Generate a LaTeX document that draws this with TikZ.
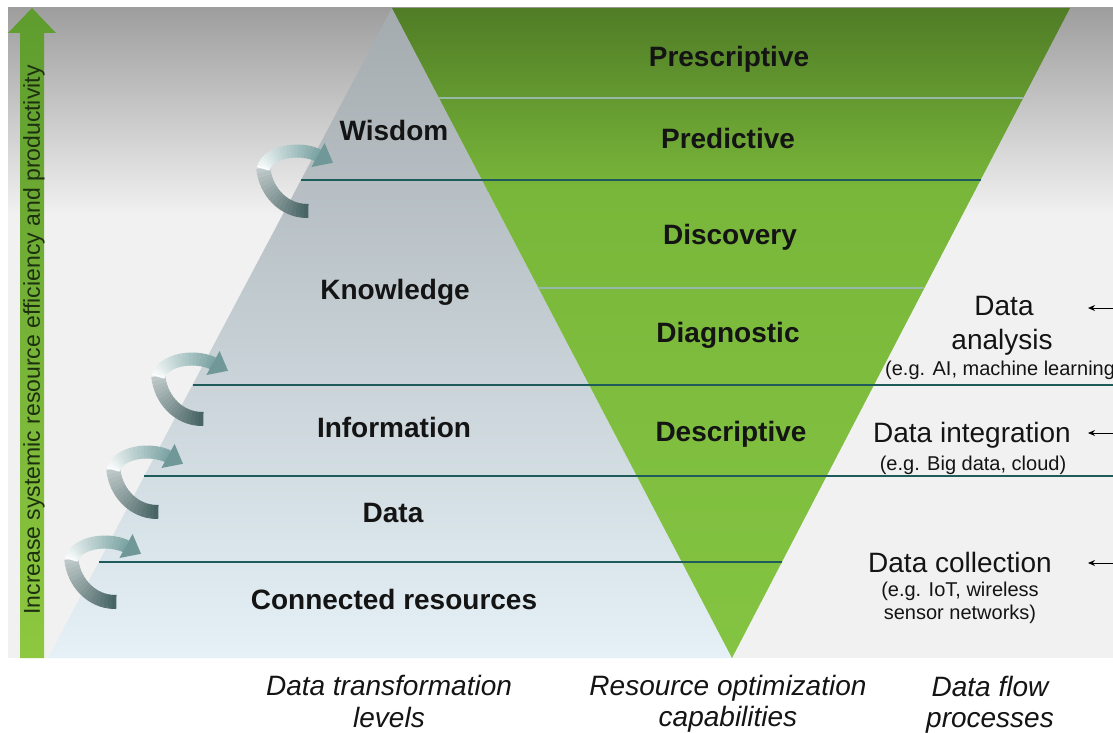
\documentclass[tikz,border=0pt]{standalone}
\usepackage{fontspec}
\setmainfont{Liberation Sans}
\usetikzlibrary{arrows.meta}

\definecolor{panelTop}{RGB}{158,158,158}
\definecolor{panelLt}{RGB}{241,241,241}
\definecolor{pyrTop}{RGB}{164,171,175}
\definecolor{pyrMid}{RGB}{204,214,219}
\definecolor{pyrBot}{RGB}{229,241,247}
\definecolor{grnTop}{RGB}{80,124,38}
\definecolor{grnMid}{RGB}{121,183,58}
\definecolor{grnBot}{RGB}{132,196,66}
\definecolor{lvlDark}{RGB}{30,92,92}
\definecolor{lvlLight}{RGB}{150,185,170}
\definecolor{arrTop}{RGB}{94,157,46}
\definecolor{arrBot}{RGB}{142,200,64}
\definecolor{arrText}{RGB}{28,48,16}
\definecolor{spLoA}{RGB}{190,200,200}
\definecolor{spLoB}{RGB}{72,100,100}
\definecolor{spUpA}{RGB}{250,253,253}
\definecolor{spUpB}{RGB}{120,160,160}
\definecolor{spHead}{RGB}{112,152,152}
\definecolor{txt}{RGB}{20,20,20}

\tikzset{
  level/.style={font=\fontsize{28}{30}\selectfont\bfseries, text=txt, anchor=base, inner sep=0},
  flow/.style={font=\fontsize{28}{30}\selectfont, text=txt, anchor=base, inner sep=0},
  flowsmall/.style={font=\fontsize{20}{22}\selectfont, text=txt, anchor=base, inner sep=0},
  caption/.style={font=\fontsize{28}{30}\selectfont\itshape, text=txt, anchor=base, inner sep=0},
  sepdark/.style={draw=lvlDark, line width=1.5},
  seplight/.style={draw=lvlLight, line width=1.5},
  inarrow/.style={draw=black, line width=1, -{Stealth[length=7pt,width=6pt]}},
  curl/.pic={
    % back strand: from the left bend down to the tail
    \begin{scope}[shift={(50,-4)}]
      \foreach \i in {0,...,16}{
        \pgfmathsetmacro\ta{174-5*\i}
        \pgfmathsetmacro\tb{\ta-5.8}
        \pgfmathtruncatemacro\p{100-\i*100/16}
        \draw[line width=14, spLoA!\p!spLoB] (\ta:44 and 48)
          arc[start angle=\ta, end angle=\tb, x radius=44, y radius=48];
      }
    \end{scope}
    % front strand: from the left bend over the top to the head
    \begin{scope}[shift={(40,4)}]
      \foreach \i in {0,...,19}{
        \pgfmathsetmacro\ta{186+6.1*\i}
        \pgfmathsetmacro\tb{\ta+6.8}
        \pgfmathtruncatemacro\p{100-\i*5}
        \draw[line width=13, spUpA!\p!spUpB] (\ta:34 and 20)
          arc[start angle=\ta, end angle=\tb, x radius=34, y radius=20];
      }
    \end{scope}
    \fill[spHead] (54.4,0) -- (76,-4.2) -- (67.6,-24) -- cycle;
  }
}

\begin{document}
\begin{tikzpicture}[x=1pt,y=-1pt]
\useasboundingbox (0,0) rectangle (1113,733);
\fill[white] (0,0) rectangle (1113,733);

% background panel
\shade[top color=panelTop, bottom color=panelLt] (8,8) rectangle (1113,215);
\fill[panelLt] (8,214) rectangle (1113,658);

% data transformation pyramid
\shade[top color=pyrTop, middle color=pyrMid, bottom color=pyrBot]
  (392,8) -- (48,658) -- (732,658) -- cycle;

% inverted triangle of capabilities
\begin{scope}
  \clip (392,8) -- (1070,8) -- (732,658) -- cycle;
  \shade[top color=grnTop, bottom color=grnMid] (392,8) rectangle (1070,190);
  \shade[top color=grnMid, bottom color=grnBot] (392,189) rectangle (1070,658);
\end{scope}

% separators
\coordinate (s1a) at (439,98);   \coordinate (s1b) at (1023,98);
\coordinate (s2a) at (301,180);  \coordinate (s2b) at (981,180);
\coordinate (s3a) at (538,288);  \coordinate (s3b) at (924,288);
\coordinate (s4a) at (193,385);  \coordinate (s4b) at (1113,385);
\coordinate (s5a) at (144,476);  \coordinate (s5b) at (1113,476);
\coordinate (s6a) at (99,562);   \coordinate (s6b) at (782,562);
\draw[seplight] (s1a) -- (s1b);
\draw[sepdark]  (s2a) -- (s2b);
\draw[seplight] (s3a) -- (s3b);
\draw[sepdark]  (s4a) -- (s4b);
\draw[sepdark]  (s5a) -- (s5b);
\draw[sepdark]  (s6a) -- (s6b);

% vertical arrow with its caption
\shade[top color=arrTop, bottom color=arrBot]
  (20,658) -- (20,33) -- (8,33) -- (32,8) -- (56,33) -- (44,33) -- (44,658) -- cycle;
\node[rotate=90, font=\fontsize{23}{25}\selectfont, text=arrText, inner sep=0]
  (axis) at (34,340) {Increase systemic resource efficiency and productivity};

% curled transition arrows
\pic at (257,167) {curl};
\pic at (152,375) {curl};
\pic at (107,468) {curl};
\pic at (65,558)  {curl};

% transformation levels
\node[level] (wis) at (394,140) {Wisdom};
\node[level] (kno) at (395,299) {Knowledge};
\node[level] (inf) at (394,437) {Information};
\node[level] (dat) at (393,522) {Data};
\node[level] (con) at (394,609) {Connected resources};

% capabilities
\node[level] (pre) at (729,67)  {Prescriptive};
\node[level] (prd) at (728,148) {Predictive};
\node[level] (dis) at (730,244) {Discovery};
\node[level] (dia) at (728,342) {Diagnostic};
\node[level] (des) at (731,441) {Descriptive};

% data flow processes
\node[flow] (an1) at (1004,315) {Data};
\node[flow] (an2) at (1002,349) {analysis};
\node[flowsmall, anchor=base west] (an3) at (885,375) {(e.g. AI, machine learning};
\node[flow] (in1) at (972,442) {Data integration};
\node[flowsmall] (in2) at (973,470) {(e.g. Big data, cloud)};
\node[flow] (co1) at (960,572) {Data collection};
\node[flowsmall] (co2) at (960,596) {(e.g. IoT, wireless};
\node[flowsmall] (co3) at (960,619) {sensor networks)};

% incoming arrows at the right edge
\coordinate (ia1) at (1113,308); \coordinate (ib1) at (1088,308);
\coordinate (ia2) at (1113,433); \coordinate (ib2) at (1088,433);
\coordinate (ia3) at (1113,563); \coordinate (ib3) at (1088,563);
\draw[inarrow] (ia1) -- (ib1);
\draw[inarrow] (ia2) -- (ib2);
\draw[inarrow] (ia3) -- (ib3);

% column captions
\node[caption] (c1a) at (389,695) {Data transformation};
\node[caption] (c1b) at (389,727) {levels};
\node[caption] (c2a) at (728,695) {Resource optimization};
\node[caption] (c2b) at (728,726) {capabilities};
\node[caption] (c3a) at (990,696) {Data flow};
\node[caption] (c3b) at (990,727) {processes};
\end{tikzpicture}
\end{document}
